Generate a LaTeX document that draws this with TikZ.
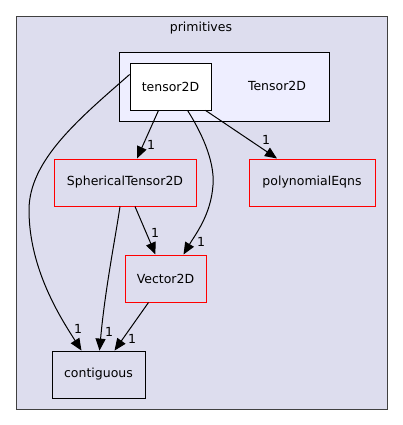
\documentclass[tikz,border=0pt]{standalone}
\usepackage{fontspec}
\setmainfont{DejaVu Sans}
\usetikzlibrary{arrows.meta}
\definecolor{clouter}{HTML}{DDDDEE}
\definecolor{clinner}{HTML}{EEEEFF}
\definecolor{cborder}{HTML}{404040}
\tikzset{
  dirbox/.style={draw=red, line width=1pt, fill=clouter, minimum height=47pt, inner sep=0pt, font=\fontsize{12.5}{14}\selectfont},
  plainbox/.style={draw=black, line width=0.8pt, minimum height=47pt, inner sep=0pt, font=\fontsize{12.5}{14}\selectfont},
  dep/.style={draw=black, line width=1pt, -{Triangle[length=12pt,width=10pt]}},
  lbl/.style={font=\fontsize{12.5}{14}\selectfont, inner sep=0pt},
}
\begin{document}
\begin{tikzpicture}[x=1pt,y=-1pt]
\useasboundingbox (0,0) rectangle (403,425);
\fill[white] (0,0) rectangle (403,425);
% clusters
\node[draw=cborder, line width=0.9pt, fill=clouter, minimum width=371pt, minimum height=393pt, inner sep=0pt, anchor=north west] (outer) at (16,16) {};
\node[lbl] (outerlbl) at (201,28) {primitives};
\node[draw=black, line width=0.9pt, fill=clinner, minimum width=210pt, minimum height=69pt, inner sep=0pt, anchor=north west] (inner) at (119,52) {};
\node[lbl] (innerlbl) at (277,86) {Tensor2D};
% nodes
\node[plainbox, fill=white, minimum width=81pt] (t2d) at (170.5,86.5) {tensor2D};
\node[dirbox, minimum width=142pt] (sph) at (125,182.5) {SphericalTensor2D};
\node[dirbox, minimum width=126pt] (poly) at (312,182.5) {polynomialEqns};
\node[dirbox, minimum width=81pt] (vec) at (165.5,278.5) {Vector2D};
\node[plainbox, fill=clouter, minimum width=93pt] (cont) at (98.5,374.5) {contiguous};
% edges
\draw[dep] ([yshift=12pt]t2d.west) .. controls (80,118) and (29,160) .. (29,210) .. controls (29,270) and (62,320) .. ([xshift=-17pt]cont.north);
\node[lbl] (l1) at (78,329) {1};
\draw[dep] ([xshift=-12pt]t2d.south) -- ([xshift=12pt]sph.north);
\node[lbl] (l2) at (151,145) {1};
\draw[dep] ([xshift=17pt]t2d.south) .. controls (200,130) and (215,160) .. (213,185) .. controls (211,215) and (195,235) .. ([xshift=18pt]vec.north);
\node[lbl] (l3) at (201,242) {1};
\draw[dep] ([xshift=35pt]t2d.south) -- ([xshift=-35pt]poly.north);
\node[lbl] (l4) at (266,140) {1};
\draw[dep] ([xshift=-5pt]sph.south) .. controls (115,240) and (105,290) .. ([xshift=1pt]cont.north);
\node[lbl] (l5) at (109,332) {1};
\draw[dep] ([xshift=10pt]sph.south) -- ([xshift=-10pt]vec.north);
\node[lbl] (l6) at (155,233) {1};
\draw[dep] ([xshift=-17pt]vec.south) -- ([xshift=16pt]cont.north);
\node[lbl] (l7) at (132,339) {1};
\end{tikzpicture}
\end{document}
